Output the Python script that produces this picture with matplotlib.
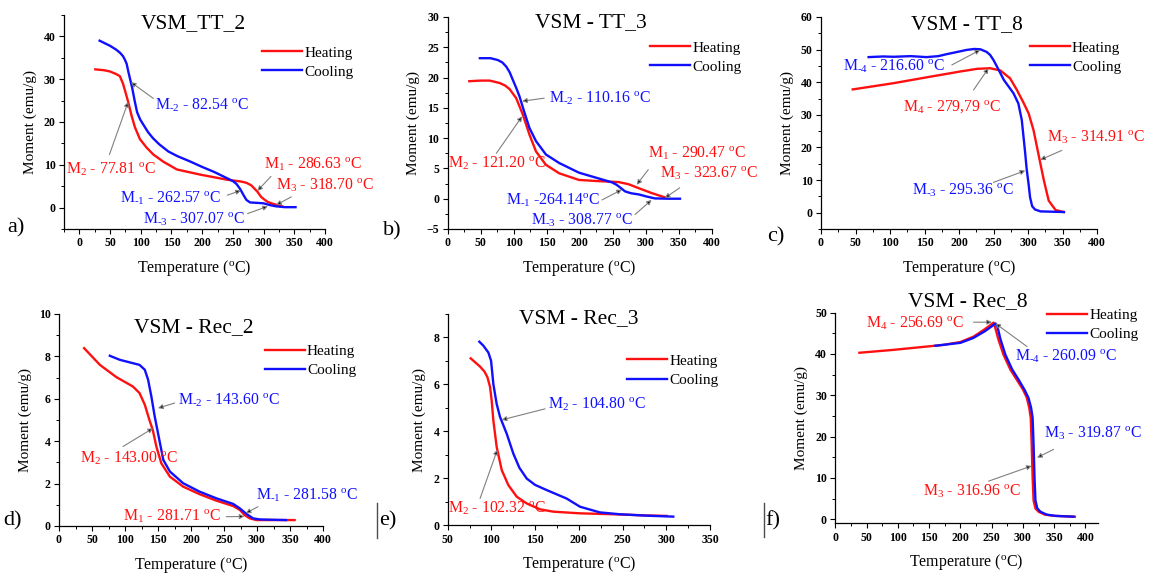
import numpy as np
import matplotlib
matplotlib.use('Agg')
import matplotlib.pyplot as plt
from matplotlib.ticker import MultipleLocator, AutoMinorLocator

plt.rcParams['font.family'] = ['Liberation Serif', 'DejaVu Serif']
plt.rcParams['mathtext.fontset'] = 'custom'
plt.rcParams['mathtext.rm'] = 'Liberation Serif'
plt.rcParams['mathtext.it'] = 'Liberation Serif:italic'
plt.rcParams['mathtext.bf'] = 'Liberation Serif:bold'

RED = '#ff1010'
BLUE = '#1010ff'

# ---- Data (temperature in C, moment in emu/g) ----
# a) VSM_TT_2
heat_a_T = [26, 40, 50, 60, 66, 71, 75.6, 79.5, 85, 90.4, 98.6, 109.6, 120.5, 137, 159, 197,
            241, 263, 272, 280, 286, 290, 296, 302, 307, 315, 322, 330]
heat_a_M = [32.3, 32.1, 31.8, 31.2, 30.7, 29.0, 26.7, 24.7, 21.5, 18.8, 16.0, 14.0, 12.4, 10.7, 8.9, 7.7,
            6.5, 6.1, 5.8, 5.2, 4.3, 3.7, 2.5, 1.8, 1.3, 0.9, 0.6, 0.3]
cool_a_T = [33, 40, 50, 60, 66, 71, 74, 77, 80, 83, 86, 90, 94, 99, 105, 112, 120, 130, 145, 160, 180,
            200, 220, 240, 250, 256, 262, 267, 272, 278, 290, 300, 310, 320, 335, 352]
cool_a_M = [39.0, 38.5, 37.8, 36.9, 36.2, 35.4, 34.6, 33.6, 31.6, 29.8, 28.0, 25.0, 22.3, 20.6, 19.2,
            17.6, 16.2, 14.8, 13.1, 12.0, 10.8, 9.5, 8.3, 6.9, 6.2, 5.5, 4.3, 3.0, 1.8, 1.2, 1.1, 1.0,
            0.6, 0.3, 0.1, 0.1]

# b) VSM - TT_3
heat_b_T = [33, 50, 64, 79, 87, 94, 104, 114, 124, 134, 149, 169, 199, 229, 259, 274, 289, 309, 324, 330]
heat_b_M = [19.4, 19.5, 19.5, 19.1, 18.7, 18.1, 16.6, 13.9, 10.6, 7.8, 5.6, 4.2, 3.1, 2.9, 2.75, 2.4,
            1.76, 0.94, 0.4, 0.2]
cool_b_T = [49, 65, 76, 83, 89, 94, 99, 104, 109, 116, 124, 134, 149, 169, 199, 224, 249, 256, 262,
            269, 278, 290, 300, 314, 335, 352]
cool_b_M = [23.2, 23.2, 22.9, 22.5, 21.8, 20.9, 19.6, 18.3, 16.9, 14.4, 11.7, 9.5, 7.3, 5.9, 4.3, 3.5,
            2.7, 2.3, 1.8, 1.2, 0.9, 0.7, 0.4, 0.05, 0.0, 0.0]

# c) VSM - TT_8
heat_c_T = [46, 105, 153, 202, 226, 245, 260, 274, 284, 294, 301, 308, 315, 318, 323, 330, 340, 352]
heat_c_M = [37.8, 39.7, 41.5, 43.3, 44.1, 44.3, 43.6, 41.2, 37.6, 33.5, 30.4, 25.3, 18.1, 15.0, 9.9,
            3.7, 0.8, 0.2]
cool_c_T = [69, 90, 105, 130, 153, 170, 182, 200, 211, 222, 231, 240, 245, 250, 255, 265, 279, 286,
            291, 296, 298, 301, 303, 306, 310, 318, 335, 352]
cool_c_M = [47.7, 47.9, 47.8, 48.0, 47.7, 48.0, 48.6, 49.4, 49.9, 50.2, 50.1, 49.3, 48.4, 46.8, 44.8,
            40.7, 36.6, 33.5, 28.4, 18.1, 13.5, 8.5, 4.7, 2.0, 1.0, 0.4, 0.3, 0.2]

# d) VSM - Rec_2
heat_d_T = [38, 62, 87, 112, 122, 130, 137, 142, 147.5, 155, 168, 188, 213, 238, 264, 274, 281, 289, 299, 357]
heat_d_M = [8.39, 7.6, 7.02, 6.58, 6.27, 5.72, 5.0, 4.54, 3.75, 2.96, 2.33, 1.86, 1.5, 1.2, 0.94, 0.76,
            0.52, 0.36, 0.28, 0.28]
cool_d_T = [77, 92, 107, 122, 130, 135, 140, 145, 150, 158, 168, 188, 213, 238, 264, 274, 284, 294, 304, 344]
cool_d_M = [8.03, 7.84, 7.72, 7.6, 7.37, 6.9, 6.1, 5.17, 4.38, 3.12, 2.57, 2.02, 1.62, 1.31, 1.04, 0.83,
            0.57, 0.36, 0.31, 0.28]

# e) VSM - Rec_3
heat_e_T = [76.3, 87, 92, 95.5, 98.4, 100.3, 102.2, 106, 111.8, 119.4, 128.9, 140.4, 155.6, 170.9, 201,
            239.5, 277.6, 300.5]
heat_e_M = [7.11, 6.76, 6.55, 6.3, 5.9, 5.31, 4.47, 3.34, 2.35, 1.71, 1.22, 0.93, 0.68, 0.58, 0.51,
            0.47, 0.42, 0.40]
cool_e_T = [86.2, 90.8, 96.5, 99.6, 102.2, 106, 109.9, 117.5, 125.1, 132, 140.4, 150, 163.2, 186, 201.4,
            224, 247, 277.6, 308]
cool_e_M = [7.82, 7.65, 7.36, 7.01, 6.02, 5.17, 4.61, 3.9, 3.05, 2.45, 1.99, 1.72, 1.5, 1.14, 0.79,
            0.55, 0.47, 0.41, 0.37]

# f) VSM - Rec_8
heat_f_T = [38.5, 93, 146, 173, 200, 221, 237, 248, 253, 256, 261, 269, 280, 290, 300, 306, 310, 312.5,
            314, 315.5, 317, 320, 325, 335, 350, 383]
heat_f_M = [40.3, 41.0, 41.8, 42.2, 42.9, 44.2, 45.8, 47.0, 47.6, 46.2, 43.4, 39.8, 36.2, 33.8, 31.4,
            29.5, 27.0, 24.5, 18.0, 10.0, 4.5, 2.6, 1.8, 1.1, 0.8, 0.6]
cool_f_T = [160, 200, 221, 240, 251, 256, 259, 264, 272, 283, 293, 303, 309, 313, 315.5, 317, 318.5,
            320, 323, 328, 338, 352, 381]
cool_f_M = [42.0, 42.7, 43.9, 45.6, 46.8, 47.4, 46.8, 43.6, 39.8, 36.2, 33.8, 31.2, 29.3, 27.0, 24.5,
            18.0, 10.0, 4.5, 2.6, 1.8, 1.1, 0.8, 0.6]

titles = ['VSM_TT_2', 'VSM - TT_3', 'VSM - TT_8', 'VSM - Rec_2', 'VSM - Rec_3', 'VSM - Rec_8']
panel_tags = ['a)', 'b)', 'c)', 'd)', 'e)', 'f)']

HY = '\u2010'  # short hyphen for the cooling subscripts (M-1, M-2 ...)

# transition labels: (text, colour, text x, text y, arrow tip x, tip y, tail x, tail y)
ann_a = [(r'M$_{\rm %s2}$ - 82.54 $^{\rm o}$C' % HY, BLUE, 123, 23.9, 84, 29.3, 120.5, 25.5),
         (r'M$_{\rm 2}$ - 77.81 $^{\rm o}$C', RED, -22, 8.9, 79.5, 24.7, 49, 12.4),
         (r'M$_{\rm 1}$ - 286.63 $^{\rm o}$C', RED, 301, 10.1, 290, 3.9, 312, 7.3),
         (r'M$_{\rm 3}$ - 318.70 $^{\rm o}$C', RED, 320.5, 5.3, 320.5, 0.6, 345, 2.5),
         (r'M$_{\rm %s1}$ - 262.57 $^{\rm o}$C' % HY, BLUE, 66, 2.1, 263, 4.0, 241, 2.9),
         (r'M$_{\rm %s3}$ - 307.07 $^{\rm o}$C' % HY, BLUE, 104, -2.6, 307, 0.3, 274, -1.4)]
ann_b = [(r'M$_{\rm %s2}$ - 110.16 $^{\rm o}$C' % HY, BLUE, 154, 16.6, 113, 16.1, 146.5, 16.6),
         (r'M$_{\rm 2}$ - 121.20 $^{\rm o}$C', RED, 1.5, 5.9, 113, 13.6, 74, 7.5),
         (r'M$_{\rm 1}$ - 290.47 $^{\rm o}$C', RED, 304, 7.5, 286.5, 2.3, 304, 4.8),
         (r'M$_{\rm 3}$ - 323.67 $^{\rm o}$C', RED, 321.5, 4.2, 329, 0.1, 351.5, 1.8),
         (r'M$_{\rm %s1}$ -264.14$^{\rm o}$C' % HY, BLUE, 88, -0.2, 264, 1.5, 234, -0.2),
         (r'M$_{\rm %s3}$ - 308.77 $^{\rm o}$C' % HY, BLUE, 126.5, -3.5, 309, -0.2, 284, -2.6)]
ann_c = [(r'M$_{\rm %s4}$ - 216.60 $^{\rm o}$C' % HY, BLUE, 32.4, 44.8, 230.7, 49.9, 189.6, 45.3),
         (r'M$_{\rm 4}$ - 279,79 $^{\rm o}$C', RED, 119.5, 32.5, 242.8, 44.3, 221, 37.6),
         (r'M$_{\rm 3}$ - 314.91 $^{\rm o}$C', RED, 327.5, 23.2, 317.8, 16.2, 349, 19.1),
         (r'M$_{\rm %s3}$ - 295.36 $^{\rm o}$C' % HY, BLUE, 131.6, 6.8, 296, 12.9, 250, 9.3)]
ann_d = [(r'M$_{\rm %s2}$ - 143.60 $^{\rm o}$C' % HY, BLUE, 180.3, 5.95, 150, 5.56, 175.3, 5.8),
         (r'M$_{\rm 2}$ - 143.00 $^{\rm o}$C', RED, 31.3, 3.2, 142.4, 4.61, 97, 3.75),
         (r'M$_{\rm %s1}$ - 281.58 $^{\rm o}$C' % HY, BLUE, 299, 1.46, 283, 0.6, 301.5, 0.91),
         (r'M$_{\rm 1}$ - 281.71 $^{\rm o}$C', RED, 97, 0.44, 281, 0.45, 253.5, 0.44)]
ann_e = [(r'M$_{\rm 2}$ - 104.80 $^{\rm o}$C', BLUE, 165, 5.14, 111.8, 4.49, 161.3, 4.96),
         (r'M$_{\rm 2}$ - 102.32 $^{\rm o}$C', RED, 50.8, 0.72, 106.8, 3.22, 87, 1.14)]
ann_f = [(r'M$_{\rm 4}$ - 256.69 $^{\rm o}$C', RED, 49, 47.4, 250.5, 47.7, 221, 47.7),
         (r'M$_{\rm %s4}$ - 260.09 $^{\rm o}$C' % HY, BLUE, 288, 39.4, 256, 47.4, 306.5, 41.8),
         (r'M$_{\rm 3}$ - 319.87 $^{\rm o}$C', BLUE, 333, 20.9, 322.6, 14.9, 349, 16.9),
         (r'M$_{\rm 3}$ - 316.96 $^{\rm o}$C', RED, 141, 6.8, 314, 12.9, 245, 9.2)]

# ---- Layout (pixel boxes measured on the 1164x574 reference) ----
W, H = 1164, 574
fig = plt.figure(figsize=(W / 100, H / 100), dpi=100)
fig.patch.set_facecolor('white')


def px_axes(l, t, r, b):
    return fig.add_axes([l / W, 1 - b / H, (r - l) / W, (b - t) / H])


panels = [
    dict(box=(64, 15, 325, 229), xlim=(-25, 400), ylim=(-5, 45), ymaj=10, heat=(heat_a_T, heat_a_M),
         cool=(cool_a_T, cool_a_M), ann=ann_a, title_xy=(193, 24), tag_xy=(16, 228), leg=(0.759, 0.855)),
    dict(box=(447.5, 17, 711.7, 229), xlim=(0, 400), ylim=(-5, 30), ymaj=5, heat=(heat_b_T, heat_b_M),
         cool=(cool_b_T, cool_b_M), ann=ann_b, title_xy=(591, 23), tag_xy=(392, 231), leg=(0.767, 0.887)),
    dict(box=(821, 17, 1097, 229), xlim=(0, 400), ylim=(-5, 60), ymaj=10, heat=(heat_c_T, heat_c_M),
         cool=(cool_c_T, cool_c_M), ann=ann_c, title_xy=(967, 25), tag_xy=(776, 237), leg=(0.757, 0.887)),
    dict(box=(59, 314, 323, 526), xlim=(0, 400), ylim=(0, 10), ymaj=2, heat=(heat_d_T, heat_d_M),
         cool=(cool_d_T, cool_d_M), ann=ann_d, title_xy=(194, 328), tag_xy=(13, 521), leg=(0.78, 0.855)),
    dict(box=(447.7, 314, 710, 525.3), xlim=(50, 350), ylim=(0, 9), ymaj=2, heat=(heat_e_T, heat_e_M),
         cool=(cool_e_T, cool_e_M), ann=ann_e, title_xy=(579, 319), tag_xy=(388, 521), leg=(0.684, 0.81)),
    dict(box=(835.3, 312.7, 1098, 523.3), xlim=(0, 420), ylim=(-1, 50), ymaj=10, heat=(heat_f_T, heat_f_M),
         cool=(cool_f_T, cool_f_M), ann=ann_f, title_xy=(968, 302), tag_xy=(773, 521), leg=(0.806, 1.02)),
]

for i, p in enumerate(panels):
    ax = px_axes(*p['box'])
    ax.plot(*p['heat'], color=RED, lw=1.7, label='Heating')
    ax.plot(*p['cool'], color=BLUE, lw=1.7, label='Cooling')
    ax.set_xlim(*p['xlim'])
    ax.set_ylim(*p['ylim'])

    ax.xaxis.set_major_locator(MultipleLocator(50))
    ax.xaxis.set_minor_locator(AutoMinorLocator(2))
    ax.yaxis.set_major_locator(MultipleLocator(p['ymaj']))
    ax.yaxis.set_minor_locator(AutoMinorLocator(2))
    if i == 0:
        # no tick labels at the -25 / -5 limits of panel a
        ax.set_xticks(list(range(0, 401, 50)))
        ax.set_yticks([0, 10, 20, 30, 40])
    for s in ['top', 'right']:
        ax.spines[s].set_visible(False)
    for s in ['left', 'bottom']:
        ax.spines[s].set_linewidth(0.9)
    ax.tick_params(which='major', direction='out', length=3.5, width=0.8, labelsize=8.5, pad=2.5)
    ax.tick_params(which='minor', direction='out', length=2, width=0.7)
    plt.setp(ax.get_xticklabels() + ax.get_yticklabels(), fontweight='bold')

    ax.set_xlabel(r'Temperature ($^{\rm o}$C)', fontsize=11.5, labelpad=6)
    ax.set_ylabel('Moment (emu/g)', fontsize=11, labelpad=5)

    for txt, col, tx, ty, hx, hy, sx, sy in p['ann']:
        ax.annotate('', xy=(hx, hy), xytext=(sx, sy), annotation_clip=False,
                    arrowprops=dict(arrowstyle='-|>', ec='0.5', fc='black', lw=0.8,
                                    mutation_scale=7, shrinkA=0, shrinkB=0))
        ax.text(tx, ty, txt, color=col, fontsize=11.3, ha='left', va='center')

    ax.legend(loc='upper left', bbox_to_anchor=p['leg'], frameon=False, fontsize=11,
              handlelength=2.6, handletextpad=0.15, labelspacing=0.35, borderpad=0,
              borderaxespad=0)

    fig.text(p['title_xy'][0] / W, 1 - p['title_xy'][1] / H, titles[i], fontsize=15.5,
             ha='center', va='center')
    fig.text(p['tag_xy'][0] / W, 1 - p['tag_xy'][1] / H, panel_tags[i], fontsize=16,
             ha='center', va='center')

# stray frame marks in front of e) and f)
fig.add_artist(plt.Line2D([377.3 / W, 377.3 / W], [1 - 503 / H, 1 - 538 / H], color='0.3', lw=1))
fig.add_artist(plt.Line2D([764.3 / W, 764.3 / W], [1 - 503 / H, 1 - 537 / H], color='0.3', lw=1))

fig.savefig('out.png', dpi=100)
